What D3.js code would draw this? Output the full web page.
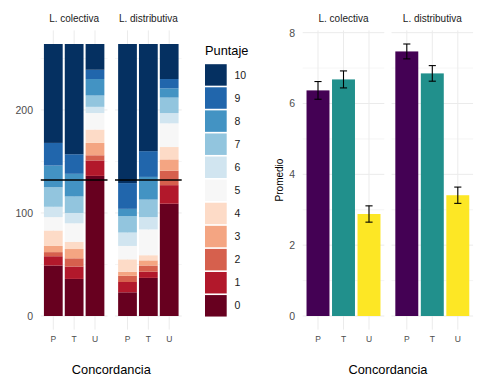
<!DOCTYPE html>
<head>
  <meta charset="utf-8">
  <script src="https://d3js.org/d3.v7.min.js"></script>
  <style>
    body { margin:0; background:#fff; }
    text { font-family: "Liberation Sans", Arial, sans-serif; }
  </style>
</head>

<body>
<script>
  // ---- data ----
  const concordancia = ["P", "T", "U"];
  const paneles = ["L. colectiva", "L. distributiva"];
  const puntajes = [0, 1, 2, 3, 4, 5, 6, 7, 8, 9, 10];

  // counts per puntaje 0..10
  const colectivaP = [49, 9, 4, 6, 15, 13, 10, 19, 21, 22, 96];
  const colectivaT = [36, 12, 8, 9, 7, 18, 10, 16, 22, 19, 107];
  const colectivaU = [136, 15, 5, 12, 13, 16, 6, 11, 16, 9, 25];
  const distributivaP = [23, 10, 6, 4, 12, 13, 13, 16, 7, 25, 135];
  const distributivaT = [37, 6, 6, 5, 5, 25, 12, 17, 22, 25, 104];
  const distributivaU = [109, 18, 14, 11, 12, 23, 10, 15, 9, 9, 34];
  const mitad = 132;

  const promedioColectiva = [6.37, 6.68, 2.88];
  const promedioDistributiva = [7.47, 6.85, 3.41];
  const errorColectiva = [0.25, 0.24, 0.23];
  const errorDistributiva = [0.21, 0.22, 0.23];

  const rdbu = ["#67001f","#b2182b","#d6604d","#f4a582","#fddbc7","#f7f7f7",
                "#d1e5f0","#92c5de","#4393c3","#2166ac","#053061"];
  const viridis = ["#440154", "#21908c", "#fde725"];

  const counts = {
    "L. colectiva": [colectivaP, colectivaT, colectivaU],
    "L. distributiva": [distributivaP, distributivaT, distributivaU]
  };
  const medias = {
    "L. colectiva": [promedioColectiva, errorColectiva],
    "L. distributiva": [promedioDistributiva, errorDistributiva]
  };

  const W = 480, H = 384;
  const svg = d3.select("body").append("svg")
    .attr("width", W).attr("height", H);

  const grid = "#ebebeb";
  const panelTop = 30.4, panelBottom = 329.6;

  function band(x0, x1) {
    return d3.scaleBand().domain(concordancia).range([x0, x1])
      .paddingInner(0.1).paddingOuter(0.15);
  }

  function drawPanel(g, x, y, majors, minors) {
    const [x0, x1] = x.range();
    g.selectAll(".minor").data(minors).enter().append("line")
      .attr("x1", x0).attr("x2", x1)
      .attr("y1", d => y(d)).attr("y2", d => y(d))
      .attr("stroke", grid).attr("stroke-width", 0.5);
    g.selectAll(".major").data(majors).enter().append("line")
      .attr("x1", x0).attr("x2", x1)
      .attr("y1", d => y(d)).attr("y2", d => y(d))
      .attr("stroke", grid).attr("stroke-width", 1);
    g.selectAll(".vgrid").data(concordancia).enter().append("line")
      .attr("x1", d => x(d) + x.bandwidth() / 2).attr("x2", d => x(d) + x.bandwidth() / 2)
      .attr("y1", panelTop).attr("y2", panelBottom)
      .attr("stroke", grid).attr("stroke-width", 1);
  }

  function xAxis(g, x) {
    g.append("g")
      .attr("transform", "translate(0," + panelBottom + ")")
      .call(d3.axisBottom(x).tickSize(0).tickPadding(6.5))
      .call(a => a.select(".domain").remove())
      .selectAll("text")
      .attr("font-size", 8.5).attr("fill", "#4d4d4d")
      .style("font-family", "Liberation Sans, Arial, sans-serif");
  }

  function strip(g, x, label) {
    const [x0, x1] = x.range();
    g.append("text")
      .attr("x", (x0 + x1) / 2).attr("y", 22)
      .attr("text-anchor", "middle").attr("font-size", 10)
      .attr("fill", "#1a1a1a").text(label);
  }

  // ---------------- left chart: stacked counts ----------------
  const yL = d3.scaleLinear().domain([-13.2, 277.2]).range([panelBottom, panelTop]);
  const leftX = [band(40.8, 107.5), band(115, 181.7)];

  svg.append("g")
    .attr("transform", "translate(33,0)")
    .call(d3.axisLeft(yL).tickValues([0, 100, 200]).tickSize(0).tickPadding(0))
    .call(a => a.select(".domain").remove())
    .selectAll("text").attr("font-size", 10.5).attr("fill", "#4d4d4d")
    .style("font-family", "Liberation Sans, Arial, sans-serif");

  paneles.forEach((p, i) => {
    const x = leftX[i];
    const g = svg.append("g");
    drawPanel(g, x, yL, [0, 100, 200], [50, 150, 250]);

    concordancia.forEach((c, j) => {
      const vals = counts[p][j];
      let acc = 0;
      const segs = vals.map((v, k) => {
        const s = { k: puntajes[k], y0: acc, y1: acc + v };
        acc += v;
        return s;
      });
      g.selectAll(".seg" + j).data(segs).enter().append("rect")
        .attr("x", x(c)).attr("width", x.bandwidth())
        .attr("y", d => yL(d.y1)).attr("height", d => yL(d.y0) - yL(d.y1))
        .attr("fill", d => rdbu[d.k]);
    });

    const [x0, x1] = x.range();
    g.append("line")
      .attr("x1", x0).attr("x2", x1)
      .attr("y1", yL(mitad)).attr("y2", yL(mitad))
      .attr("stroke", "#000").attr("stroke-width", 1.4);

    xAxis(g, x);
    strip(g, x, p);
  });

  svg.append("text")
    .attr("x", 111.3).attr("y", 374)
    .attr("text-anchor", "middle").attr("font-size", 12.8)
    .text("Concordancia");

  // legend
  const leg = svg.append("g");
  leg.append("text").attr("x", 205).attr("y", 55)
    .attr("font-size", 12.8).text("Puntaje");
  const keys = puntajes.slice().reverse();
  const ky = d3.scaleBand().domain(keys).range([64.2, 64.2 + 22.94 * keys.length]).paddingInner(0.07);
  leg.selectAll("rect").data(keys).enter().append("rect")
    .attr("x", 205).attr("y", d => ky(d))
    .attr("width", 21.7).attr("height", ky.bandwidth())
    .attr("fill", d => rdbu[d]);
  leg.selectAll(".lab").data(keys).enter().append("text")
    .attr("x", 234.5).attr("y", d => ky(d) + ky.bandwidth() / 2)
    .attr("dy", "0.35em").attr("font-size", 10.5).attr("fill", "#1a1a1a")
    .text(d => d);

  // ---------------- right chart: means ----------------
  const yR = d3.scaleLinear().domain([-0.384, 8.064]).range([panelBottom, panelTop]);
  const rightX = [band(302.7, 384.3), band(391.5, 473.1)];

  svg.append("g")
    .attr("transform", "translate(295,0)")
    .call(d3.axisLeft(yR).tickValues([0, 2, 4, 6, 8]).tickSize(0).tickPadding(0))
    .call(a => a.select(".domain").remove())
    .selectAll("text").attr("font-size", 10.5).attr("fill", "#4d4d4d")
    .style("font-family", "Liberation Sans, Arial, sans-serif");

  svg.append("text")
    .attr("transform", "translate(283," + 180 + ") rotate(-90)")
    .attr("text-anchor", "middle").attr("font-size", 10)
    .text("Promedio");

  paneles.forEach((p, i) => {
    const x = rightX[i];
    const g = svg.append("g");
    drawPanel(g, x, yR, [0, 2, 4, 6, 8], [1, 3, 5, 7]);
    const [m, e] = medias[p];
    const data = concordancia.map((c, j) => ({ c: c, j: j, m: m[j], e: e[j] }));

    g.selectAll(".bar").data(data).enter().append("rect")
      .attr("x", d => x(d.c)).attr("width", x.bandwidth())
      .attr("y", d => yR(d.m)).attr("height", d => yR(0) - yR(d.m))
      .attr("fill", d => viridis[d.j]);

    const cap = x.step() * 0.14;
    const eb = g.selectAll(".eb").data(data).enter().append("g")
      .attr("stroke", "#000").attr("stroke-width", 1.1);
    eb.append("line")
      .attr("x1", d => x(d.c) + x.bandwidth() / 2).attr("x2", d => x(d.c) + x.bandwidth() / 2)
      .attr("y1", d => yR(d.m - d.e)).attr("y2", d => yR(d.m + d.e));
    eb.append("line")
      .attr("x1", d => x(d.c) + x.bandwidth() / 2 - cap).attr("x2", d => x(d.c) + x.bandwidth() / 2 + cap)
      .attr("y1", d => yR(d.m + d.e)).attr("y2", d => yR(d.m + d.e));
    eb.append("line")
      .attr("x1", d => x(d.c) + x.bandwidth() / 2 - cap).attr("x2", d => x(d.c) + x.bandwidth() / 2 + cap)
      .attr("y1", d => yR(d.m - d.e)).attr("y2", d => yR(d.m - d.e));

    xAxis(g, x);
    strip(g, x, p);
  });

  svg.append("text")
    .attr("x", 387.9).attr("y", 374)
    .attr("text-anchor", "middle").attr("font-size", 12.8)
    .text("Concordancia");
</script>
</body>
